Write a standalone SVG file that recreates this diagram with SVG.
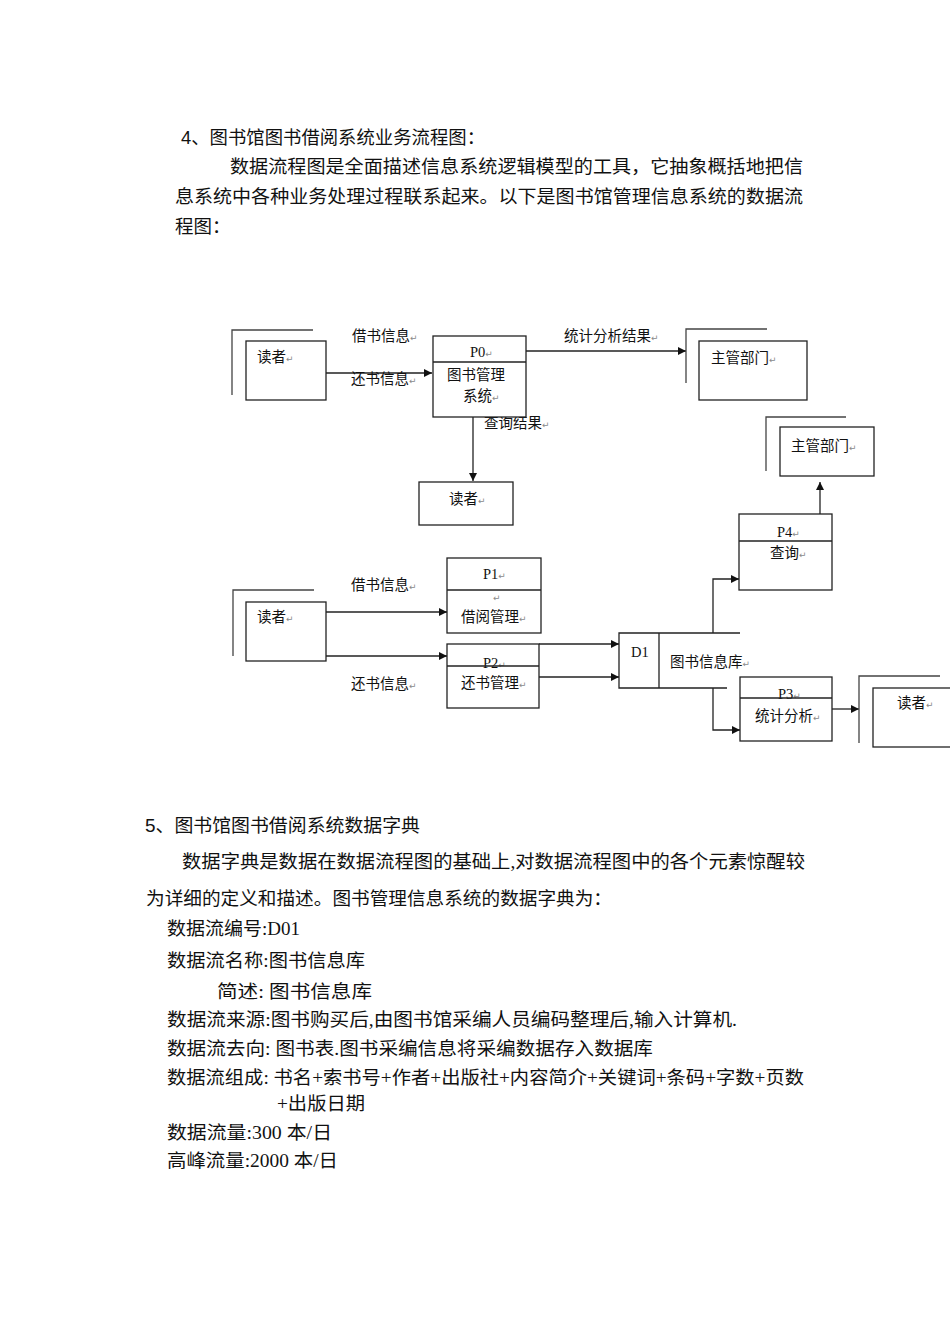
<svg xmlns="http://www.w3.org/2000/svg" width="950" height="1344" viewBox="0 0 950 1344">
<style>
.body{font-family:"Liberation Serif","Noto Sans CJK SC",serif;font-size:18.5px;fill:#111}
.head{font-family:"Liberation Sans","Noto Sans CJK SC",sans-serif;font-size:18.5px;fill:#111}
.lbl{font-family:"Liberation Serif","Noto Sans CJK SC",sans-serif;font-size:14.5px;fill:#111}
.rt{font-family:"DejaVu Sans",sans-serif;font-size:9px;fill:#8a8a8a}
.box{fill:#fff;stroke:#222;stroke-width:1.3}
.ln{fill:none;stroke:#222;stroke-width:1.3}
.ent{fill:none;stroke:#444;stroke-width:1.3}
.arr{fill:none;stroke:#222;stroke-width:1.3;marker-end:url(#ah)}
</style>
<defs>
<marker id="ah" viewBox="0 0 10 10" refX="10" refY="5" markerWidth="10" markerHeight="8" markerUnits="userSpaceOnUse" orient="auto">
<path d="M0,0 L10,5 L0,10 z" fill="#111"/>
</marker>
</defs>
<rect width="950" height="1344" fill="#fff"/>

<g id="intro">
<text class="head" x="181" y="144" textLength="304" lengthAdjust="spacingAndGlyphs">4、图书馆图书借阅系统业务流程图：</text>
<text class="body" x="230" y="173" textLength="573" lengthAdjust="spacingAndGlyphs">数据流程图是全面描述信息系统逻辑模型的工具，它抽象概括地把信</text>
<text class="body" x="175" y="203" textLength="628" lengthAdjust="spacingAndGlyphs">息系统中各种业务处理过程联系起来。以下是图书馆管理信息系统的数据流</text>
<text class="body" x="175" y="233">程图：</text>
</g>

<g id="connectors">
<path class="arr" d="M326,373 H432"/>
<path class="arr" d="M526,351 H686"/>
<path class="arr" d="M473,417 V481"/>
<path class="arr" d="M820,514 V482"/>
<path class="arr" d="M326,612 H447"/>
<path class="arr" d="M326,656 H447"/>
<path class="arr" d="M539,644 H619"/>
<path class="arr" d="M539,677 H619"/>
<path class="arr" d="M713,633 V579 H739"/>
<path class="arr" d="M713,688 V730 H740"/>
<path class="arr" d="M832,709 H859"/>
<text class="lbl" x="352" y="340.5">借书信息<tspan class="rt">↵</tspan></text>
<text class="lbl" x="351" y="383.5">还书信息<tspan class="rt">↵</tspan></text>
<text class="lbl" x="564" y="340.5">统计分析结果<tspan class="rt">↵</tspan></text>
<text class="lbl" x="484" y="428">查询结果<tspan class="rt">↵</tspan></text>
<text class="lbl" x="351" y="589.5">借书信息<tspan class="rt">↵</tspan></text>
<text class="lbl" x="351" y="688.5">还书信息<tspan class="rt">↵</tspan></text>
</g>

<g id="reader-top">
<path class="ent" d="M313,330 H232 V395"/>
<rect class="box" x="246" y="341" width="80" height="59"/>
<text class="lbl" x="257" y="362">读者<tspan class="rt">↵</tspan></text>
</g>

<g id="p0">
<rect class="box" x="433" y="336" width="93" height="81"/>
<path class="ln" d="M433,362 H526"/>
<text class="lbl" x="470" y="357">P0<tspan class="rt">↵</tspan></text>
<text class="lbl" x="447" y="379.5">图书管理</text>
<text class="lbl" x="463" y="400.5">系统<tspan class="rt">↵</tspan></text>
</g>

<g id="reader-query">
<rect class="box" x="419" y="482" width="94" height="43"/>
<text class="lbl" x="449" y="503.5">读者<tspan class="rt">↵</tspan></text>
</g>

<g id="dept-top">
<path class="ent" d="M767,329 H686 V383"/>
<rect class="box" x="699" y="341" width="108" height="59"/>
<text class="lbl" x="711" y="363">主管部门<tspan class="rt">↵</tspan></text>
</g>

<g id="dept-p4">
<path class="ent" d="M846,417 H766 V471"/>
<rect class="box" x="780" y="427" width="94" height="49"/>
<text class="lbl" x="791" y="450.5">主管部门<tspan class="rt">↵</tspan></text>
</g>

<g id="reader-bottom">
<path class="ent" d="M314,590 H233 V656"/>
<rect class="box" x="246" y="602" width="80" height="59"/>
<text class="lbl" x="257" y="621.5">读者<tspan class="rt">↵</tspan></text>
</g>

<g id="p1">
<rect class="box" x="447" y="558" width="94" height="75"/>
<path class="ln" d="M447,590 H541"/>
<text class="lbl" x="483" y="579">P1<tspan class="rt">↵</tspan></text>
<text class="rt" x="493" y="601">↵</text>
<text class="lbl" x="461" y="622">借阅管理<tspan class="rt">↵</tspan></text>
</g>

<g id="p2">
<rect class="box" x="447" y="644" width="92" height="64"/>
<text class="lbl" x="483" y="668">P2<tspan class="rt">↵</tspan></text>
<path class="ln" d="M447,666 H539"/>
<text class="lbl" x="461" y="688">还书管理<tspan class="rt">↵</tspan></text>
</g>

<g id="d1">
<path class="ln" d="M740,633 H619 V688 H727 M659,633 V688"/>
<text class="lbl" x="631" y="657">D1</text>
<text class="lbl" x="670" y="666.5">图书信息库<tspan class="rt">↵</tspan></text>
</g>

<g id="p4">
<rect class="box" x="739" y="514" width="93" height="76"/>
<path class="ln" d="M739,541 H832"/>
<text class="lbl" x="777" y="537">P4<tspan class="rt">↵</tspan></text>
<text class="lbl" x="770" y="558">查询<tspan class="rt">↵</tspan></text>
</g>

<g id="p3">
<rect class="box" x="740" y="677" width="92" height="64"/>
<text class="lbl" x="778" y="699">P3<tspan class="rt">↵</tspan></text>
<path class="ln" d="M740,698 H832"/>
<text class="lbl" x="755" y="720.5">统计分析<tspan class="rt">↵</tspan></text>
</g>

<g id="reader-p3">
<path class="ent" d="M940,676 H859 V743"/>
<rect class="box" x="873" y="688" width="82" height="59"/>
<text class="lbl" x="897" y="708">读者<tspan class="rt">↵</tspan></text>
</g>

<g id="dictionary">
<text class="head" x="145" y="832" textLength="275" lengthAdjust="spacingAndGlyphs">5、图书馆图书借阅系统数据字典</text>
<text class="body" x="182" y="868" textLength="623" lengthAdjust="spacingAndGlyphs">数据字典是数据在数据流程图的基础上,对数据流程图中的各个元素惊醒较</text>
<text class="body" x="146" y="905" textLength="466" lengthAdjust="spacingAndGlyphs">为详细的定义和描述。图书管理信息系统的数据字典为：</text>
<text class="body" x="167" y="935" textLength="133" lengthAdjust="spacingAndGlyphs">数据流编号:D01</text>
<text class="body" x="167" y="967" textLength="198" lengthAdjust="spacingAndGlyphs">数据流名称:图书信息库</text>
<text class="body" x="217" y="998" textLength="155" lengthAdjust="spacingAndGlyphs">简述: 图书信息库</text>
<text class="body" x="167" y="1026" textLength="570" lengthAdjust="spacingAndGlyphs">数据流来源:图书购买后,由图书馆采编人员编码整理后,输入计算机.</text>
<text class="body" x="167" y="1055" textLength="486" lengthAdjust="spacingAndGlyphs">数据流去向: 图书表.图书采编信息将采编数据存入数据库</text>
<text class="body" x="167" y="1083.5" textLength="637" lengthAdjust="spacingAndGlyphs">数据流组成: 书名+索书号+作者+出版社+内容简介+关键词+条码+字数+页数</text>
<text class="body" x="277" y="1110" textLength="88" lengthAdjust="spacingAndGlyphs">+出版日期</text>
<text class="body" x="167" y="1138.5" textLength="165" lengthAdjust="spacingAndGlyphs">数据流量:300 本/日</text>
<text class="body" x="167" y="1167" textLength="171" lengthAdjust="spacingAndGlyphs">高峰流量:2000 本/日</text>
</g>
</svg>
